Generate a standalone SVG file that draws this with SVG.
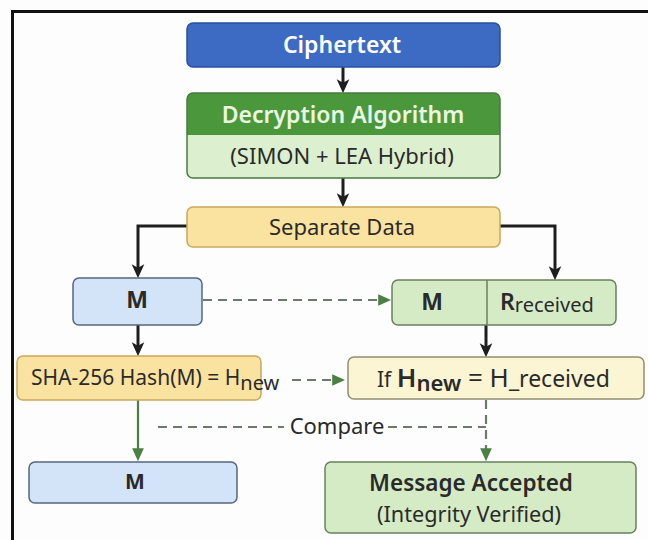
<svg xmlns="http://www.w3.org/2000/svg" width="648" height="540" viewBox="0 0 648 540">
  <defs>
    <!-- black solid arrowhead: tip sits 4px past the line end -->
    <marker id="ahBlack" viewBox="0 0 10 10" refX="7" refY="5" markerWidth="14" markerHeight="14" orient="auto" markerUnits="userSpaceOnUse">
      <path d="M0,0.5 L10,5 L0,9.5 L2.5,5 z" fill="#1e1e1e"/>
    </marker>
    <!-- green arrowhead for the dashed / comparison flows -->
    <marker id="ahGreen" viewBox="0 0 10 10" refX="6" refY="5" markerWidth="13" markerHeight="13" orient="auto" markerUnits="userSpaceOnUse">
      <path d="M0,0.5 L10,5 L0,9.5 z" fill="#4b7f44"/>
    </marker>
    <style>
      text { font-family: "Noto Sans", "Open Sans", "DejaVu Sans", sans-serif; text-anchor: middle; fill: #2a2a2a; }
      .blk { stroke: #1e1e1e; stroke-width: 3; fill: none; }
      .grn { stroke: #4b7f44; stroke-width: 2.2; fill: none; }
      .dash { stroke: #6b7a6b; stroke-width: 2.2; fill: none; stroke-dasharray: 9 6; }
      .yellow { fill: #fae3a0; stroke: #c9a95a; stroke-width: 1.5; }
      .paleY { fill: #fcf5d4; stroke: #8f8f70; stroke-width: 1.5; }
      .blue { fill: #d3e3f8; stroke: #56677d; stroke-width: 1.5; }
      .green { fill: #d5ebc6; stroke: #67815d; stroke-width: 1.5; }
    </style>
  </defs>

  <rect width="648" height="540" fill="#fdfdfd"/>
  <!-- frame (left and top edges) -->
  <path d="M12.5,540 V11.5 H648" fill="none" stroke="#111" stroke-width="3"/>

  <!-- connectors -->
  <g id="connectors">
    <line class="blk" x1="343" y1="67" x2="343" y2="89" marker-end="url(#ahBlack)"/>
    <line class="blk" x1="343" y1="178" x2="343" y2="203" marker-end="url(#ahBlack)"/>
    <path class="blk" d="M187,226 H138 V274" marker-end="url(#ahBlack)"/>
    <path class="blk" d="M500,226 H555 V276" marker-end="url(#ahBlack)"/>
    <line class="blk" x1="138" y1="325" x2="138" y2="352" marker-end="url(#ahBlack)"/>
    <line class="blk" x1="486" y1="300" x2="486" y2="353" marker-end="url(#ahBlack)"/>
    <line class="dash" x1="203" y1="300" x2="386" y2="300" marker-end="url(#ahGreen)"/>
    <line class="dash" x1="292" y1="380" x2="340" y2="380" stroke-dasharray="7 5" marker-end="url(#ahGreen)"/>
    <line class="grn" x1="138" y1="400" x2="138" y2="456" marker-end="url(#ahGreen)"/>
    <line class="dash" x1="486" y1="400" x2="486" y2="456" stroke-dasharray="6 5" marker-end="url(#ahGreen)"/>
    <line class="dash" x1="158" y1="427" x2="284" y2="427"/>
    <line class="dash" x1="388" y1="427" x2="486" y2="427" stroke-dasharray="6 5"/>
  </g>

  <g id="ciphertext">
    <rect x="187" y="23" width="313" height="44" rx="6" fill="#3d6bc3" stroke="#2b509c" stroke-width="1.5"/>
    <text x="342" y="53" font-size="23" font-weight="600" style="fill:#ffffff">Ciphertext</text>
  </g>

  <g id="decryption">
    <rect x="187" y="93" width="313" height="85" rx="6" fill="#dcefcf"/>
    <path d="M187,135 V99 a6,6 0 0 1 6,-6 H494 a6,6 0 0 1 6,6 V135 z" fill="#4b983c"/>
    <rect x="187" y="93" width="313" height="85" rx="6" fill="none" stroke="#4a7a40" stroke-width="1.5"/>
    <text x="343" y="123" font-size="23" font-weight="600" style="fill:#eaf6e2">Decryption Algorithm</text>
    <text x="342" y="164" font-size="22">(SIMON + LEA Hybrid)</text>
  </g>

  <g id="separate">
    <rect class="yellow" x="187" y="207" width="313" height="40" rx="6"/>
    <text x="342" y="235" font-size="22">Separate Data</text>
  </g>

  <g id="m-left">
    <rect class="blue" x="73" y="278" width="129" height="47" rx="6"/>
    <text x="137" y="308" font-size="23" font-weight="bold">M</text>
  </g>

  <g id="m-received">
    <rect class="green" x="392" y="280" width="224" height="45" rx="6"/>
    <line x1="487" y1="280" x2="487" y2="325" stroke="#67815d" stroke-width="1.5"/>
    <text x="432" y="310" font-size="23" font-weight="bold">M</text>
    <text x="500" y="310" font-size="23" font-weight="600" style="text-anchor:start">R<tspan font-size="20" font-weight="normal" dy="2">received</tspan></text>
  </g>

  <g id="sha">
    <rect class="yellow" x="17" y="356" width="244" height="44" rx="6"/>
    <text x="31" y="385" font-size="21" style="text-anchor:start">SHA-256 Hash(M) = H<tspan font-size="20" dy="5">new</tspan></text>
  </g>

  <g id="compare-check">
    <rect class="paleY" x="348" y="357" width="296" height="42" rx="6"/>
    <text x="377" y="387" font-size="21" style="text-anchor:start">If <tspan font-size="26" font-weight="600">H</tspan><tspan font-size="22" font-weight="600" dy="4">new</tspan><tspan dy="-4" font-size="26"> = H</tspan><tspan font-size="23">_received</tspan></text>
  </g>

  <g id="compare-label">
    <text x="337" y="434" font-size="22">Compare</text>
  </g>

  <g id="m-bottom">
    <rect class="blue" x="29" y="462" width="208" height="41" rx="6"/>
    <text x="135" y="489" font-size="21" font-weight="bold">M</text>
  </g>

  <g id="accepted">
    <rect class="green" x="325" y="462" width="311" height="71" rx="6"/>
    <text x="471" y="491" font-size="22.5" font-weight="600">Message Accepted</text>
    <text x="469" y="522" font-size="21.7">(Integrity Verified)</text>
  </g>
</svg>
